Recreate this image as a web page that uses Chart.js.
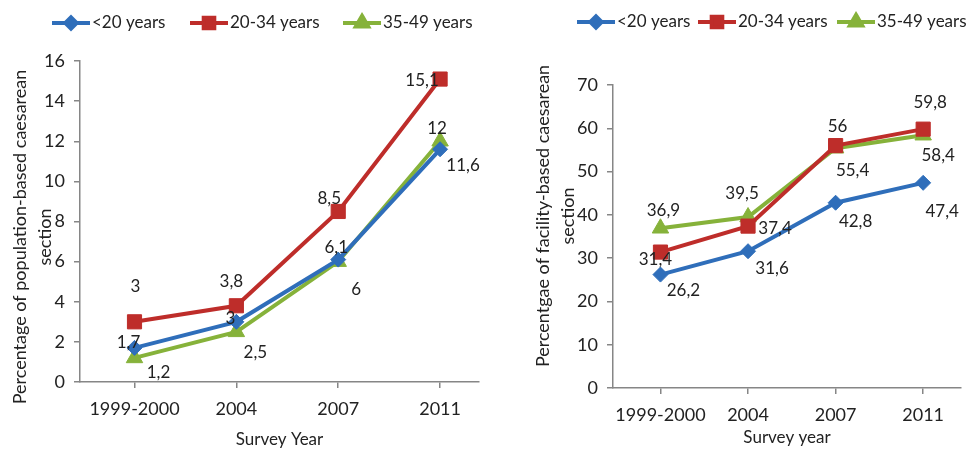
<!DOCTYPE html>
<html>
<head>
<meta charset="utf-8">
<script src="https://cdn.jsdelivr.net/npm/chart.js@4.4.1/dist/chart.umd.min.js"></script>
<style>
  body { margin: 0; background: #fff; width: 972px; height: 450px; position: relative; overflow: hidden; }
  #left { position: absolute; left: 0; top: 0; width: 490px; height: 450px; }
  #right { position: absolute; left: 490px; top: 0; width: 482px; height: 450px; }
</style>
</head>
<body>
<div id="left"><canvas id="popChart"></canvas></div>
<div id="right"><canvas id="facChart"></canvas></div>
<script>
// categories
const years = ["1999-2000", "2004", "2007", "2011"];
const seriesNames = ["<20 years", "20-34 years", "35-49 years"];

// population-based caesarean section (%)
const popUnder20 = [1.7, 3, 6.1, 11.6];
const pop20to34 = [3, 3.8, 8.5, 15.1];
const pop35to49 = [1.2, 2.5, 6, 12];

// facility-based caesarean section (%)
const facUnder20 = [26.2, 31.6, 42.8, 47.4];
const fac20to34 = [31.4, 37.4, 56, 59.8];
const fac35to49 = [36.9, 39.5, 55.4, 58.4];

const colors = ["#2F6EBA", "#BE2D2A", "#86B23A"];
const markers = ["rectRot", "rect", "triangle"];
const markerRadius = [7.5, 10, 9.5];
const FONT = "Lato, 'Open Sans', sans-serif";
const axisColor = "#868686";

// one plugin for legend, value labels and the two-line y title
const decor = {
    id: "decor",
    afterDraw(chart, args, opts) {
        const ctx = chart.ctx;
        ctx.save();
        ctx.fillStyle = "#222";
        ctx.textBaseline = "middle";

        // legend
        ctx.font = "17px " + FONT;
        opts.legendX.forEach((x, i) => {
            const y = opts.legendY;
            ctx.strokeStyle = colors[i];
            ctx.lineWidth = 4;
            ctx.beginPath();
            ctx.moveTo(x, y);
            ctx.lineTo(x + 38, y);
            ctx.stroke();
            ctx.fillStyle = colors[i];
            Chart.helpers.drawPoint(ctx, {
                pointStyle: markers[i], radius: markerRadius[i] * 0.75, rotation: 0, borderWidth: 1
            }, x + 19, y);
            ctx.fillStyle = "#222";
            ctx.textAlign = "left";
            ctx.fillText(seriesNames[i], x + 40, y);
        });

        // value labels
        ctx.textAlign = "center";
        chart.data.datasets.forEach((ds, di) => {
            const meta = chart.getDatasetMeta(di);
            meta.data.forEach((pt, pi) => {
                const off = opts.labelOffsets[di][pi];
                const txt = String(ds.data[pi].y).replace(".", ",");
                ctx.fillText(txt, pt.x + off[0], pt.y + off[1]);
            });
        });

        // y title (two lines, rotated)
        ctx.font = "18px " + FONT;
        ctx.translate(opts.titleX, opts.titleY);
        ctx.rotate(-Math.PI / 2);
        ctx.fillText(opts.yTitle[0], 0, 0);
        ctx.fillText(opts.yTitle[1], 0, opts.titleGap);
        ctx.restore();
    }
};

function makeDatasets(arrays) {
    return arrays.map((arr, i) => ({
        label: seriesNames[i],
        data: arr.map((v, j) => ({ x: j, y: v })),
        borderColor: colors[i],
        backgroundColor: colors[i],
        borderWidth: 4,
        pointStyle: markers[i],
        pointRadius: markerRadius[i],
        pointBorderWidth: 1,
        tension: 0
    }));
}

function makeChart(id, arrays, cfg) {
    return new Chart(document.getElementById(id), {
        type: "line",
        data: { datasets: makeDatasets(arrays) },
        options: {
            responsive: true,
            maintainAspectRatio: false,
            animation: false,
            layout: { padding: { top: cfg.top, left: 0, right: 0, bottom: 0 } },
            plugins: {
                legend: { display: false },
                tooltip: { enabled: false },
                decor: cfg.decor
            },
            scales: {
                x: {
                    type: "linear",
                    min: cfg.xMin,
                    max: cfg.xMax,
                    afterFit: s => { s.height = cfg.xHeight; },
                    grid: { drawOnChartArea: false, drawTicks: true, tickLength: 6, color: axisColor, lineWidth: 1.5 },
                    border: { color: axisColor, width: 1.5 },
                    ticks: {
                        stepSize: 1,
                        includeBounds: false,
                        autoSkip: false,
                        maxRotation: 0,
                        padding: 10,
                        color: "#222",
                        font: { family: FONT, size: 18 },
                        callback: v => years[v]
                    },
                    title: {
                        display: true,
                        text: cfg.xTitle,
                        color: "#222",
                        font: { family: FONT, size: 17 },
                        padding: cfg.xTitlePad
                    }
                },
                y: {
                    min: 0,
                    max: cfg.yMax,
                    afterFit: s => { s.width = cfg.yWidth; },
                    grid: { drawOnChartArea: false, drawTicks: true, tickLength: 6, color: axisColor, lineWidth: 1.5 },
                    border: { color: axisColor, width: 1.5 },
                    ticks: {
                        stepSize: cfg.yStep,
                        padding: 9,
                        color: "#222",
                        font: { family: FONT, size: 18 }
                    }
                }
            }
        },
        plugins: [decor]
    });
}

makeChart("popChart", [popUnder20, pop20to34, pop35to49], {
    top: 61, xHeight: 68, yWidth: 80, yMax: 16, yStep: 2,
    xMin: -0.535, xMax: 3.382,
    xTitle: "Survey Year", xTitlePad: { top: 0, bottom: 0 },
    decor: {
        legendX: [52, 190, 343], legendY: 23,
        titleX: 20, titleY: 237, titleGap: 25,
        yTitle: ["Percentage of population-based caesarean", "section"],
        labelOffsets: [
            [[-6, -5], [-6, -3], [-2, -12], [23, 16]],
            [[1, -35], [-5, -24], [-9, -13], [-18, 1]],
            [[24, 15], [19, 21], [18, 28], [-3, -13]]
        ]
    }
});

makeChart("facChart", [facUnder20, fac20to34, fac35to49], {
    top: 85, xHeight: 62, yWidth: 123, yMax: 70, yStep: 10,
    xMin: -0.542, xMax: 3.432,
    xTitle: "Survey year", xTitlePad: { top: 0, bottom: 2 },
    decor: {
        legendX: [87, 208, 347], legendY: 22,
        titleX: 53, titleY: 216, titleGap: 25,
        yTitle: ["Percentgae of facility-based caesarean", "section"],
        labelOffsets: [
            [[23, 16], [24, 17], [20, 19], [19, 29]],
            [[-5, 7], [27, 2], [2, -19], [7, -27]],
            [[3, -18], [-6, -24], [17, 22], [15, 20]]
        ]
    }
});
</script>
</body>
</html>
